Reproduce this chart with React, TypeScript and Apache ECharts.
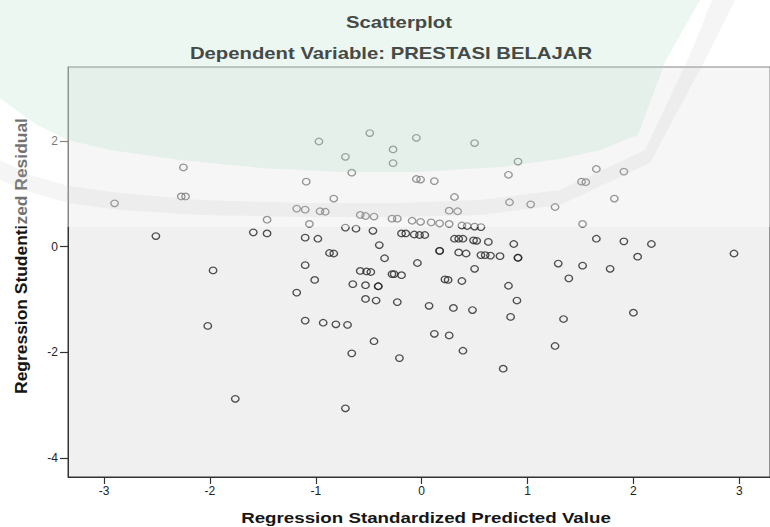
import React, { useEffect, useRef } from "react";
import * as echarts from "echarts";

// Regression Standardized Predicted Value (x) and Regression Studentized Residual (y)
const predicted = [
  -0.49, -0.97, -0.27, -0.72, -0.27, -0.66, -0.05, 0.5, 0.91, 0.82,
  1.65, 1.91, 1.51, 1.55, -0.05, -0.01, 0.12, -2.25, -1.09, -2.27,
  -2.23, -2.9, -0.83, 0.31, -1.18, -1.1, -0.96, -0.91, 0.26, 0.34,
  0.83, 1.03, 1.26, 1.82, -1.46, -1.06, -0.58, -0.53, -0.45, -0.28,
  -0.23, -0.09, -0.01, 0.09, 0.17, 0.26, 0.38, 0.43, 0.5, 0.56,
  1.52, -0.72, -0.62, -0.46, -2.51, -1.59, -1.46, -1.1, -0.98, -0.19,
  -0.15, -0.07, -0.02, 0.03, 0.31, 0.35, 0.39, 0.49, 0.52, 0.63,
  0.87, 1.65, 1.91, 2.17, 2.95, -0.4, -0.87, -0.83, -0.35, 0.17,
  0.35, 0.42, 0.56, 0.6, 0.65, 0.74, 0.91, 2.04, -0.04, -1.97,
  -1.1, -1.01, -1.18, -0.58, -0.52, -0.48, -0.28, -0.26, -0.19, -0.65,
  -0.53, -0.41, -0.53, -0.43, -0.23, 0.5, 0.22, 0.25, 0.38, 0.82,
  1.29, 1.52, 1.78, 1.39, 0.9, 0.07, 0.3, 0.48, 0.84, 1.34,
  2.0, 0.12, 0.26, 0.39, 1.26, -0.21, 0.77, -1.1, -0.93, -0.81,
  -0.7, -0.45, -0.66, -2.02, -1.76, -0.72, 0.17, 0.91, -0.41,
];
const residual = [
  2.15, 1.99, 1.84, 1.7, 1.58, 1.4, 2.06, 1.96, 1.61, 1.36,
  1.47, 1.42, 1.23, 1.22, 1.28, 1.27, 1.24, 1.5, 1.23, 0.95,
  0.95, 0.82, 0.91, 0.94, 0.72, 0.7, 0.67, 0.66, 0.68, 0.67,
  0.84, 0.8, 0.75, 0.91, 0.51, 0.43, 0.6, 0.58, 0.57, 0.53,
  0.53, 0.49, 0.47, 0.46, 0.44, 0.43, 0.4, 0.39, 0.38, 0.37,
  0.43, 0.36, 0.34, 0.3, 0.2, 0.27, 0.25, 0.17, 0.15, 0.25,
  0.25, 0.23, 0.22, 0.22, 0.15, 0.15, 0.15, 0.12, 0.11, 0.09,
  0.05, 0.15, 0.1, 0.05, -0.13, 0.03, -0.12, -0.13, -0.22, -0.08,
  -0.11, -0.13, -0.16, -0.16, -0.17, -0.18, -0.21, -0.19, -0.31, -0.45,
  -0.35, -0.63, -0.87, -0.46, -0.47, -0.48, -0.52, -0.52, -0.54, -0.71,
  -0.73, -0.75, -0.99, -1.02, -1.05, -0.42, -0.62, -0.63, -0.65, -0.74,
  -0.32, -0.36, -0.42, -0.6, -1.02, -1.12, -1.16, -1.2, -1.33, -1.37,
  -1.25, -1.65, -1.68, -1.97, -1.88, -2.11, -2.31, -1.4, -1.44, -1.47,
  -1.48, -1.79, -2.02, -1.5, -2.88, -3.06, -0.08, -0.21, -0.75,
];

// axis extents and tick steps (ticks fall on -3..3 and -4, -2, 0, 2)
const xExtent = [-3.34, 3.29];
const yExtent = [-4.36, 3.4];
const xTickStep = 1;
const yTickStep = 2;

const titleText = "Scatterplot";
const subtitleText = "Dependent Variable: PRESTASI BELAJAR";
const xName = "Regression Standardized Predicted Value";
const yName = "Regression Studentized Residual";

const FONT = "'Liberation Sans', Arial, Helvetica, sans-serif";

export default function App() {
  const ref = useRef<HTMLDivElement>(null);

  useEffect(() => {
    if (!ref.current) return;
    const chart = echarts.init(ref.current, null, { renderer: "svg" });
    const data = predicted.map((x, i) => [x, residual[i]]);

    const axisCommon = {
      type: "value",
      splitLine: { show: false },
      axisLine: { show: true, onZero: false, lineStyle: { color: "#333", width: 1 } },
    };

    chart.setOption({
      animation: false,
      backgroundColor: "#ffffff",
      grid: {
        left: 68,
        top: 67,
        right: -5,
        bottom: 50,
        show: true,
        backgroundColor: "#f0f0f0",
        borderColor: "#333",
        borderWidth: 1,
      },
      xAxis: {
        ...axisCommon,
        min: xExtent[0],
        max: xExtent[1],
        minInterval: xTickStep,
        maxInterval: xTickStep,
        axisTick: { show: true, length: 7, lineStyle: { color: "#333", width: 1.2 } },
        axisLabel: {
          showMinLabel: false,
          showMaxLabel: false,
          fontSize: 12,
          color: "#222",
          margin: 8,
          fontFamily: FONT,
        },
      },
      yAxis: {
        ...axisCommon,
        min: yExtent[0],
        max: yExtent[1],
        minInterval: yTickStep,
        maxInterval: yTickStep,
        axisTick: { show: true, length: 8, lineStyle: { color: "#333", width: 1.2 } },
        axisLabel: {
          showMinLabel: false,
          showMaxLabel: false,
          fontSize: 12,
          color: "#222",
          margin: 10,
          fontFamily: FONT,
        },
      },
      series: [
        {
          type: "scatter",
          data,
          symbol: "circle",
          symbolSize: [7.5, 6.5],
          itemStyle: { color: "rgba(0,0,0,0)", borderColor: "#262626", borderWidth: 1.3 },
          silent: true,
        },
      ],
      graphic: [
        {
          type: "text",
          x: 22,
          y: 256,
          rotation: Math.PI / 2,
          scaleX: 1.09,
          z: 40,
          silent: true,
          style: {
            text: yName,
            fontSize: 16,
            fontWeight: "bold",
            fontFamily: FONT,
            fill: "#151515",
            align: "center",
            verticalAlign: "middle",
            textAlign: "center",
            textVerticalAlign: "middle",
          },
        },
        {
          type: "text",
          x: 426,
          y: 518,
          scaleX: 1.25,
          z: 40,
          silent: true,
          style: {
            text: xName,
            fontSize: 15,
            fontWeight: "bold",
            fontFamily: FONT,
            fill: "#151515",
            align: "center",
            verticalAlign: "middle",
            textAlign: "center",
            textVerticalAlign: "middle",
          },
        },
        // watermark: translucent white veil over the upper part
        {
          type: "rect",
          z: 50,
          silent: true,
          shape: { x: 0, y: 0, width: 770, height: 227 },
          style: { fill: "rgba(255,255,255,0.4)" },
        },
        // watermark: faint green logo area
        {
          type: "polygon",
          z: 51,
          silent: true,
          shape: {
            points: [
              [0, 0], [700, 0], [665, 62], [638, 135], [600, 150], [560, 159], [500, 167],
              [420, 172], [340, 172], [260, 168], [180, 160], [110, 150], [68, 140], [35, 124], [0, 98],
            ],
          },
          style: { fill: "rgba(175,220,195,0.22)" },
        },
        // watermark: grey swoosh band
        {
          type: "polygon",
          z: 51,
          silent: true,
          shape: {
            points: [
              [712, 0], [690, 55], [645, 150], [560, 190], [480, 200], [400, 203], [300, 203],
              [200, 200], [120, 193], [68, 186], [30, 175], [0, 160],
              [0, 180], [30, 192], [68, 203], [120, 210], [200, 215], [300, 217], [400, 217],
              [480, 215], [560, 205], [650, 163], [705, 60], [735, 0],
            ],
          },
          style: { fill: "rgba(190,195,192,0.16)" },
        },
        {
          type: "text",
          x: 399,
          y: 22,
          scaleX: 1.27,
          z: 60,
          silent: true,
          style: {
            text: titleText,
            fontSize: 16,
            fontWeight: "bold",
            fontFamily: FONT,
            fill: "#454a47",
            align: "center",
            verticalAlign: "middle",
            textAlign: "center",
            textVerticalAlign: "middle",
          },
        },
        {
          type: "text",
          x: 391,
          y: 53,
          scaleX: 1.27,
          z: 60,
          silent: true,
          style: {
            text: subtitleText,
            fontSize: 16,
            fontWeight: "bold",
            fontFamily: FONT,
            fill: "#454a47",
            align: "center",
            verticalAlign: "middle",
            textAlign: "center",
            textVerticalAlign: "middle",
          },
        },
      ],
    });

    return () => chart.dispose();
  }, []);

  return (
    <div
      ref={ref}
      style={{ position: "absolute", left: 0, top: 0, width: 770, height: 527, overflow: "hidden" }}
    />
  );
}
